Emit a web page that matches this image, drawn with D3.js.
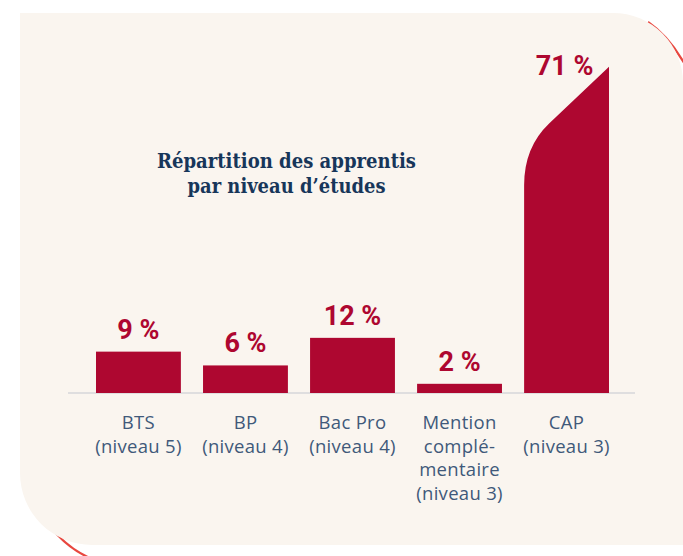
<!DOCTYPE html>
<html><head><meta charset="utf-8">
<script src="https://cdn.jsdelivr.net/npm/d3@7"></script>
<style>html,body{margin:0;padding:0;background:#fff;}svg{display:block;}</style>
</head><body>
<svg id="chart" width="683" height="556"></svg>
<script>
const categories = ["BTS", "BP", "Bac Pro", "Mention", "CAP"];
const categoryLines = [
  ["BTS", "(niveau 5)"],
  ["BP", "(niveau 4)"],
  ["Bac Pro", "(niveau 4)"],
  ["Mention", "complé-", "mentaire", "(niveau 3)"],
  ["CAP", "(niveau 3)"]
];
const values = [9, 6, 12, 2, 71];
const valueLabels = ["9 %", "6 %", "12 %", "2 %", "71 %"];
const titleLines = ["Répartition des apprentis", "par niveau d’études"];

const svg = d3.select("#chart");
const RED = "#AE0730";

// decorative red outline arcs (behind panel)
svg.append("path").attr("d", "M 648 22 Q 674 40 692 78")
  .attr("fill", "none").attr("stroke", "#E8473F").attr("stroke-width", 2.2);
svg.append("path").attr("d", "M 30 490 Q 52 546 100 562")
  .attr("fill", "none").attr("stroke", "#E8473F").attr("stroke-width", 2.2);

// panel
svg.append("path")
  .attr("d", "M20,13 H613 A70,70 0 0 1 683,83 V545 H92 A72,72 0 0 1 20,473 Z")
  .attr("fill", "#FAF5EF");

const x = d3.scaleBand().domain(categories).range([96, 609]).paddingInner(0.207).paddingOuter(0);
const y = d3.scaleLinear().domain([0, d3.max(values)]).range([393, 66.7]);
const bw = x.bandwidth();

// baseline
svg.append("line").attr("x1", 68).attr("x2", 635).attr("y1", y(0)).attr("y2", y(0))
  .attr("stroke", "#D6D6DA").attr("stroke-width", 1.5);

const data = categories.map((c, i) => ({c, v: values[i], lab: valueLabels[i], lines: categoryLines[i], last: i === categories.length - 1}));

// bars
data.forEach(d => {
  const x0 = x(d.c), x1 = x0 + bw, top = y(d.v), base = y(0);
  if (!d.last) {
    svg.append("rect").attr("x", x0).attr("y", top).attr("width", bw).attr("height", base - top).attr("fill", RED);
  } else {
    const slope = 0.95;
    const cornerY = top + bw * slope;
    const p = d3.path();
    p.moveTo(x0, base);
    p.lineTo(x0, cornerY + 38);
    p.quadraticCurveTo(x0, cornerY, x0 + 25, cornerY - 25 * slope);
    p.lineTo(x1, top);
    p.lineTo(x1, base);
    p.closePath();
    svg.append("path").attr("d", p.toString()).attr("fill", RED);
  }
});

// value labels
svg.selectAll("text.val").data(data).join("text").attr("class", "val")
  .attr("x", d => x(d.c) + bw / 2 - (d.last ? 2 : 0))
  .attr("y", d => d.last ? y(d.v) + 8 : y(d.v) - 13)
  .attr("text-anchor", "middle")
  .attr("font-family", "Roboto, 'Noto Sans', sans-serif")
  .attr("font-weight", 700)
  .attr("font-size", 27)
  .attr("fill", RED)
  .text(d => d.lab);

// category labels
const cl = svg.selectAll("text.cat").data(data).join("text").attr("class", "cat")
  .attr("text-anchor", "middle")
  .attr("font-family", "'Open Sans', sans-serif")
  .attr("font-size", 18.5)
  .attr("letter-spacing", 0.3)
  .attr("fill", "#40597A");
cl.selectAll("tspan").data(d => d.lines.map(t => ({t, cx: x(d.c) + bw / 2}))).join("tspan")
  .attr("x", t => t.cx)
  .attr("y", (t, i) => 429 + i * 23.6)
  .text(t => t.t);

// title
const titleWidths = [259, 198];
svg.selectAll("text.title").data(titleLines).join("text").attr("class", "title")
  .attr("x", 286.5)
  .attr("y", (d, i) => 168 + i * 25)
  .attr("text-anchor", "middle")
  .attr("font-family", "'DejaVu Serif', serif")
  .attr("font-weight", 700)
  .attr("font-size", 20)
  .attr("fill", "#17365A")
  .attr("textLength", (d, i) => titleWidths[i])
  .attr("lengthAdjust", "spacingAndGlyphs")
  .text(d => d);
</script>
</body></html>
